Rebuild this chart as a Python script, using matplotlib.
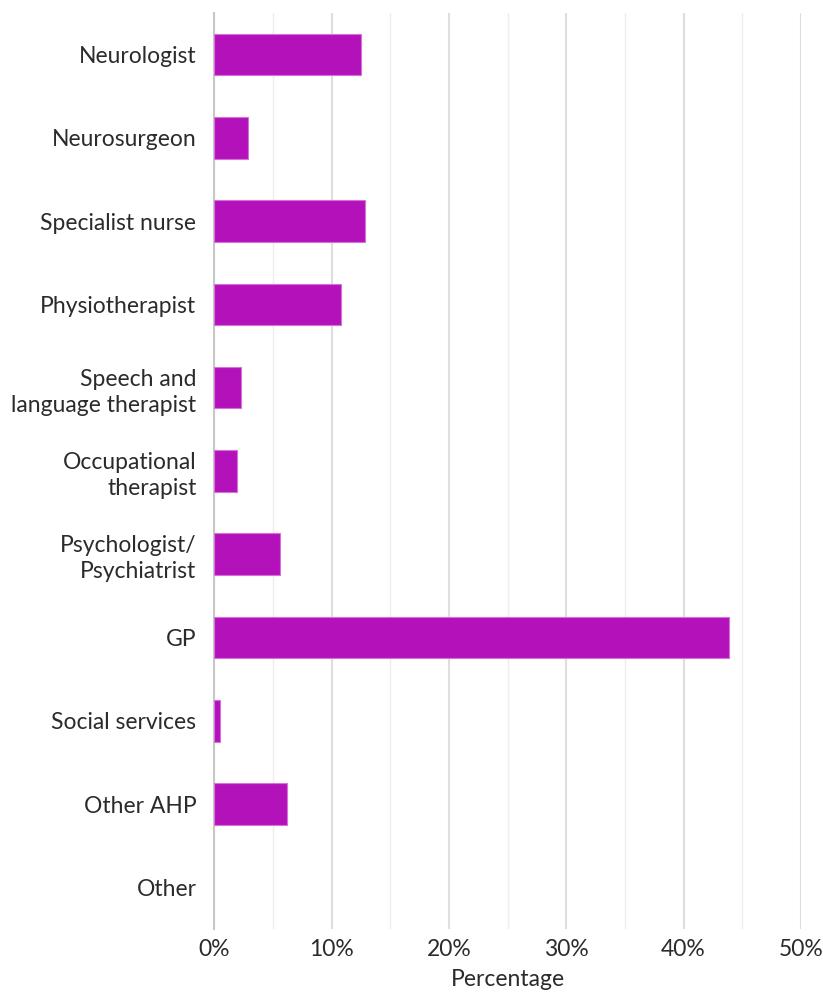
import matplotlib
matplotlib.use("Agg")
import matplotlib.pyplot as plt
from matplotlib.ticker import MultipleLocator, FuncFormatter

categories = [
    "Neurologist",
    "Neurosurgeon",
    "Specialist nurse",
    "Physiotherapist",
    "Speech and\nlanguage therapist",
    "Occupational\ntherapist",
    "Psychologist/\nPsychiatrist",
    "GP",
    "Social services",
    "Other AHP",
    "Other",
]
percentages = [12.5, 2.9, 12.8, 10.8, 2.3, 1.9, 5.6, 43.9, 0.5, 6.2, 0.0]

BAR_COLOR = "#b312bb"
EDGE_COLOR = "#d870dc"
TEXT_COLOR = "#2b2b2b"

plt.rcParams["font.family"] = ["Lato", "DejaVu Sans"]

fig = plt.figure(figsize=(8.23, 9.92), dpi=100)
ax = fig.add_axes([0.2606, 0.0635, 0.7124, 0.9235])

y = list(range(len(categories)))
edge_widths = [0.8 if v > 0 else 0 for v in percentages]
ax.barh(y, percentages, height=0.5, color=BAR_COLOR, edgecolor=EDGE_COLOR,
        linewidth=edge_widths, zorder=3)

ax.set_ylim(len(categories) - 0.5, -0.5)
ax.set_xlim(0, 50)
ax.set_yticks(y)
ax.set_yticklabels(categories, fontsize=16.5, color=TEXT_COLOR, linespacing=1.3)

ax.xaxis.set_major_locator(MultipleLocator(10))
ax.xaxis.set_minor_locator(MultipleLocator(5))
ax.xaxis.set_major_formatter(FuncFormatter(lambda v, _: f"{v:.0f}%"))
ax.tick_params(axis="x", which="both", length=0, labelsize=16.5,
               labelcolor=TEXT_COLOR, pad=7)
ax.tick_params(axis="y", length=0, pad=13)

ax.grid(axis="x", which="major", color="#dedede", linewidth=1.5, zorder=0)
ax.grid(axis="x", which="minor", color="#eeeeee", linewidth=1.0, zorder=0)
ax.grid(axis="y", visible=False)

for side in ["top", "right", "bottom"]:
    ax.spines[side].set_visible(False)
ax.spines["left"].set_color("#c8c8c8")
ax.spines["left"].set_linewidth(1.5)

ax.set_xlabel("Percentage", fontsize=16.5, color=TEXT_COLOR, labelpad=7)

fig.savefig("out.png", dpi=100, facecolor="white")
